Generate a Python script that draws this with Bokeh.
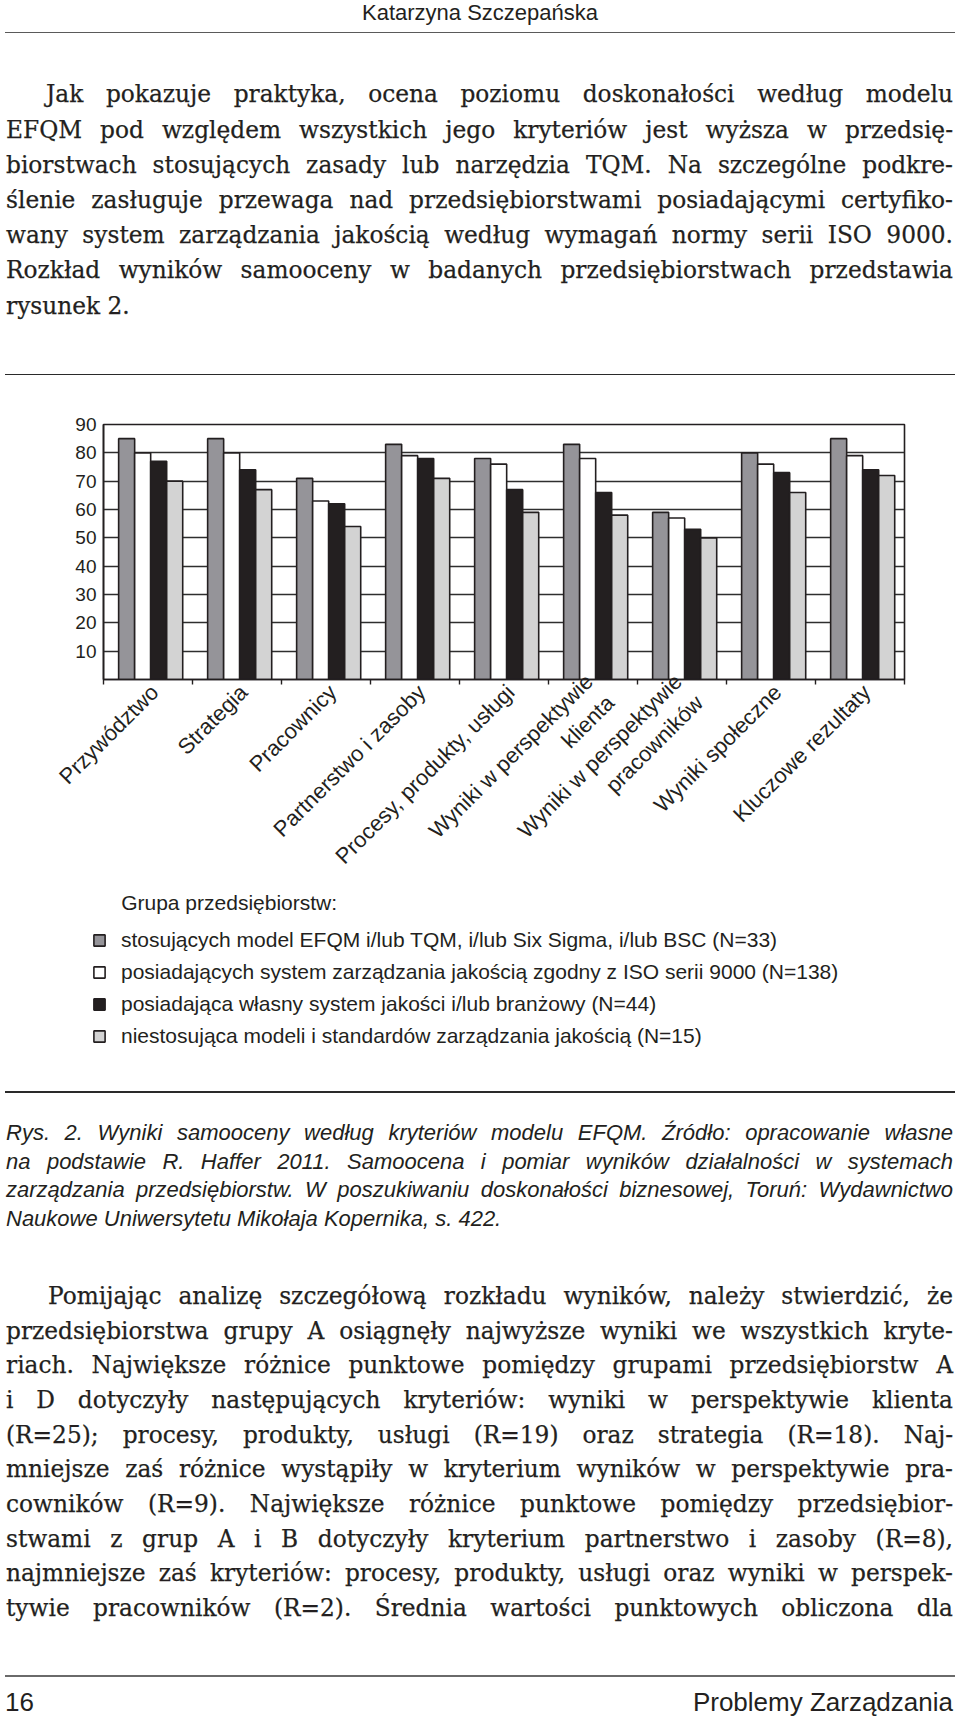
import html
from math import pi
from bokeh.plotting import figure
from bokeh.models import Range1d, FixedTicker, Legend, LegendItem, Div, ColumnDataSource
from bokeh.layouts import column
from bokeh.transform import dodge
from bokeh.embed import file_html
from bokeh.resources import INLINE

# ---------------- data ----------------
categories = [
    "Przywództwo",
    "Strategia",
    "Pracownicy",
    "Partnerstwo i zasoby",
    "Procesy, produkty, usługi",
    "Wyniki w perspektywie\nklienta",
    "Wyniki w perspektywie\npracowników",
    "Wyniki społeczne",
    "Kluczowe rezultaty",
]
group_a = [85, 85, 71, 83, 78, 83, 59, 80, 85]   # EFQM / TQM / Six Sigma / BSC
group_b = [80, 80, 63, 79, 76, 78, 57, 76, 79]   # ISO 9000
group_c = [77, 74, 62, 78, 67, 66, 53, 73, 74]   # własny system / branżowy
group_d = [70, 67, 54, 71, 59, 58, 50, 66, 72]   # bez modeli
series_labels = [
    "stosujących model EFQM i/lub TQM, i/lub Six Sigma, i/lub BSC (N=33)",
    "posiadających system zarządzania jakością zgodny z ISO serii 9000 (N=138)",
    "posiadająca własny system jakości i/lub branżowy (N=44)",
    "niestosująca modeli i standardów zarządzania jakością (N=15)",
]
legend_title = "Grupa przedsiębiorstw:"
y_ticks = [10, 20, 30, 40, 50, 60, 70, 80, 90]
grid_ticks = [10, 20, 30, 40, 50, 60, 70, 80]

header_text = "Katarzyna Szczepańska"
para1 = [
    "Jak pokazuje praktyka, ocena poziomu doskonałości według modelu",
    "EFQM pod względem wszystkich jego kryteriów jest wyższa w przedsię-",
    "biorstwach stosujących zasady lub narzędzia TQM. Na szczególne podkre-",
    "ślenie zasługuje przewaga nad przedsiębiorstwami posiadającymi certyfiko-",
    "wany system zarządzania jakością według wymagań normy serii ISO 9000.",
    "Rozkład wyników samooceny w badanych przedsiębiorstwach przedstawia",
    "rysunek 2.",
]
caption = [
    "Rys. 2. Wyniki samooceny według kryteriów modelu EFQM. Źródło: opracowanie własne",
    "na podstawie R. Haffer 2011. Samoocena i pomiar wyników działalności w systemach",
    "zarządzania przedsiębiorstw. W poszukiwaniu doskonałości biznesowej, Toruń: Wydawnictwo",
    "Naukowe Uniwersytetu Mikołaja Kopernika, s. 422.",
]
para2 = [
    "Pomijając analizę szczegółową rozkładu wyników, należy stwierdzić, że",
    "przedsiębiorstwa grupy A osiągnęły najwyższe wyniki we wszystkich kryte-",
    "riach. Największe różnice punktowe pomiędzy grupami przedsiębiorstw A",
    "i D dotyczyły następujących kryteriów: wyniki w perspektywie klienta",
    "(R=25); procesy, produkty, usługi (R=19) oraz strategia (R=18). Naj-",
    "mniejsze zaś różnice wystąpiły w kryterium wyników w perspektywie pra-",
    "cowników (R=9). Największe różnice punktowe pomiędzy przedsiębior-",
    "stwami z grup A i B dotyczyły kryterium partnerstwo i zasoby (R=8),",
    "najmniejsze zaś kryteriów: procesy, produkty, usługi oraz wyniki w perspek-",
    "tywie pracowników (R=2). Średnia wartości punktowych obliczona dla",
]
page_number = "16"
journal = "Problemy Zarządzania"

# ---------------- styles ----------------
INK = "#231f20"
FILLS = ["#959499", "#ffffff", "#231f20", "#d3d3d3"]
OFFSETS = [-0.24, -0.06, 0.12, 0.30]
BAR_W = 0.18
LABEL_SHIFT = 0.075          # tick-label anchor shift (category units)
SANS = "Liberation Sans"
SERIF = "DejaVu Serif"
PAGE_W = 960

# ---------------- chart ----------------
n = len(categories)
centers = [i + 0.5 for i in range(n)]
label_pos = [round(c + LABEL_SHIFT, 4) for c in centers]
source = ColumnDataSource(dict(x=centers, a=group_a, b=group_b, c=group_c, d=group_d))

p = figure(frame_width=801, frame_height=255,
           x_range=Range1d(0, n), y_range=Range1d(0, 90),
           output_backend="svg", toolbar_location=None,
           min_border_left=103, min_border_right=56, min_border_top=44, min_border_bottom=210,
           margin=0, background_fill_color="white", border_fill_color="white")

bar_renderers = []
for col, fill, off in zip(["a", "b", "c", "d"], FILLS, OFFSETS):
    bar_renderers.append(p.vbar(x=dodge("x", off, range=p.x_range), top=col, width=BAR_W, source=source,
                                fill_color=fill, line_color=INK, line_width=1.6))

p.outline_line_color = INK
p.outline_line_width = 1.6

p.xgrid.visible = False
p.ygrid.ticker = FixedTicker(ticks=grid_ticks)
p.ygrid.grid_line_color = "#2e2e2e"
p.ygrid.grid_line_width = 1.4

yax = p.yaxis[0]
yax.ticker = FixedTicker(ticks=y_ticks)
yax.major_tick_out = 0
yax.major_tick_in = 0
yax.minor_tick_line_color = None
yax.axis_line_color = INK
yax.axis_line_width = 1.6
yax.major_label_standoff = 7
yax.major_label_text_font = SANS
yax.major_label_text_font_size = "19px"
yax.major_label_text_color = INK

xax = p.xaxis[0]
xax.ticker = FixedTicker(ticks=label_pos, minor_ticks=list(range(n + 1)))
xax.major_label_overrides = {c: lab for c, lab in zip(label_pos, categories)}
xax.major_label_orientation = pi / 4
xax.major_tick_out = 0
xax.major_tick_in = 0
xax.major_tick_line_color = None
xax.minor_tick_out = 5
xax.minor_tick_in = 0
xax.minor_tick_line_color = INK
xax.minor_tick_line_width = 1.4
xax.axis_line_color = INK
xax.axis_line_width = 1.6
xax.major_label_standoff = 4
xax.major_label_text_font = SANS
xax.major_label_text_font_size = "22px"
xax.major_label_text_color = INK

# ---------------- legend (its own strip under the chart) ----------------
LEG_H = 181
pl = figure(width=PAGE_W, height=LEG_H, x_range=Range1d(0, 1), y_range=Range1d(0, 1),
            x_axis_type=None, y_axis_type=None, output_backend="svg", toolbar_location=None,
            min_border=0, min_border_left=0, min_border_right=0, min_border_top=0, min_border_bottom=0,
            margin=0, outline_line_color=None, background_fill_color="white", border_fill_color="white")
pl.grid.visible = False
if "frame_align" in p.properties():
    p.frame_align = False
    pl.frame_align = False
    LEG_X = 92
else:
    LEG_X = 92 - 103

# swatch renderers: same styles as the bars; hidden (and tucked behind the legend box),
# they only feed the legend swatches
swatch_src = ColumnDataSource(dict(x=[0.5], bottom=[0.45], top=[0.55]))
leg_renderers = []
for br in bar_renderers:
    r = pl.vbar(x="x", bottom="bottom", top="top", width=BAR_W, source=swatch_src,
                fill_color=br.glyph.fill_color, line_color=INK, line_width=1.6)
    r.visible = False
    leg_renderers.append(r)

legend = Legend(items=[LegendItem(label=lab, renderers=[r]) for lab, r in zip(series_labels, leg_renderers)],
                title="\u00a0" * 5 + legend_title,
                title_text_font=SANS, title_text_font_size="21px", title_text_font_style="normal",
                title_text_color=INK, title_standoff=13,
                location=(LEG_X, 22), orientation="vertical",
                glyph_width=14, glyph_height=14, label_standoff=15, label_height=24,
                spacing=8, padding=0, margin=0, border_line_color=None,
                background_fill_color="white", background_fill_alpha=1.0,
                inactive_fill_alpha=0.0,
                label_text_font=SANS, label_text_font_size="21px", label_text_color=INK)
pl.add_layout(legend, "center")

# ---------------- page text ----------------
METRICS = {SERIF: (0.928, 0.236), SANS: (0.905, 0.212)}


def block(lines, left, baseline, width, lh, font, size, align="justify", last_left=False,
          indent=0, extra="", scale=1.0):
    asc, desc = METRICS[font]
    top = baseline - ((lh - (asc + desc) * size) / 2 + asc * size)
    inner_w = width / scale
    rows = []
    for i, ln in enumerate(lines):
        if align == "justify":
            last = "left" if (last_left and i == len(lines) - 1) else "justify"
        else:
            last = align
        ind = indent / scale if i == 0 else 0
        rows.append(
            f'<div style="white-space:nowrap;height:{lh}px;line-height:{lh}px;'
            f'text-align:{align};text-align-last:{last};text-indent:{ind:.2f}px">{html.escape(ln)}</div>')
    tr = f"transform:scaleX({scale});transform-origin:0 0;" if scale != 1.0 else ""
    return (f'<div style="position:absolute;left:{left}px;top:{top:.2f}px;width:{inner_w:.2f}px;'
            f"font-family:'{font}';font-size:{size}px;color:{INK};{tr}{extra}\">" + "".join(rows) + "</div>")


def rule(y, thick, color, left=5, right=955):
    return (f'<div style="position:absolute;left:{left}px;top:{y - thick / 2:.2f}px;width:{right - left}px;'
            f'height:{thick}px;background:{color}"></div>')


def page_div(inner, height):
    return Div(text=f'<div style="position:relative;width:{PAGE_W}px;height:{height}px">{inner}</div>',
               width=PAGE_W, height=height, margin=0, styles={"overflow": "visible"})


SERIF_EXTRA = "-webkit-text-stroke:0.25px " + INK + ";"

# top part: page y 0 .. 380
T0 = 0
top_inner = (
    block([header_text], 0, 20.4 - T0, PAGE_W, 24, SANS, 22, align="center")
    + rule(32.3 - T0, 1.3, "#5a5a5a")
    + block(para1, 6, 103.3 - T0, 947, 35.2, SERIF, 24, last_left=True, indent=40, scale=0.97,
            extra=SERIF_EXTRA)
    + rule(374.6 - T0, 1.5, "#2a2a2a")
)
div_top = page_div(top_inner, 380)

# bottom part: page y 1070 .. 1722
B0 = 1070
bottom_inner = (
    rule(1092 - B0, 1.5, "#2a2a2a")
    + block(caption, 6, 1141 - B0, 947, 28.7, SANS, 22, last_left=True, extra="font-style:italic;")
    + block(para2, 6, 1304.5 - B0, 947, 34.7, SERIF, 24, indent=42, scale=0.97, extra=SERIF_EXTRA)
    + rule(1676 - B0, 1.3, "#6a6a6a")
    + block([page_number], 5, 1711 - B0, 200, 30, SANS, 26, align="left")
    + block([journal], 653, 1711 - B0, 300, 30, SANS, 26, align="right")
)
div_bottom = page_div(bottom_inner, 652)

layout = column(div_top, p, pl, div_bottom, spacing=0, margin=0)

open("out.html", "w").write(file_html(layout, INLINE, title="Rys. 2"))
